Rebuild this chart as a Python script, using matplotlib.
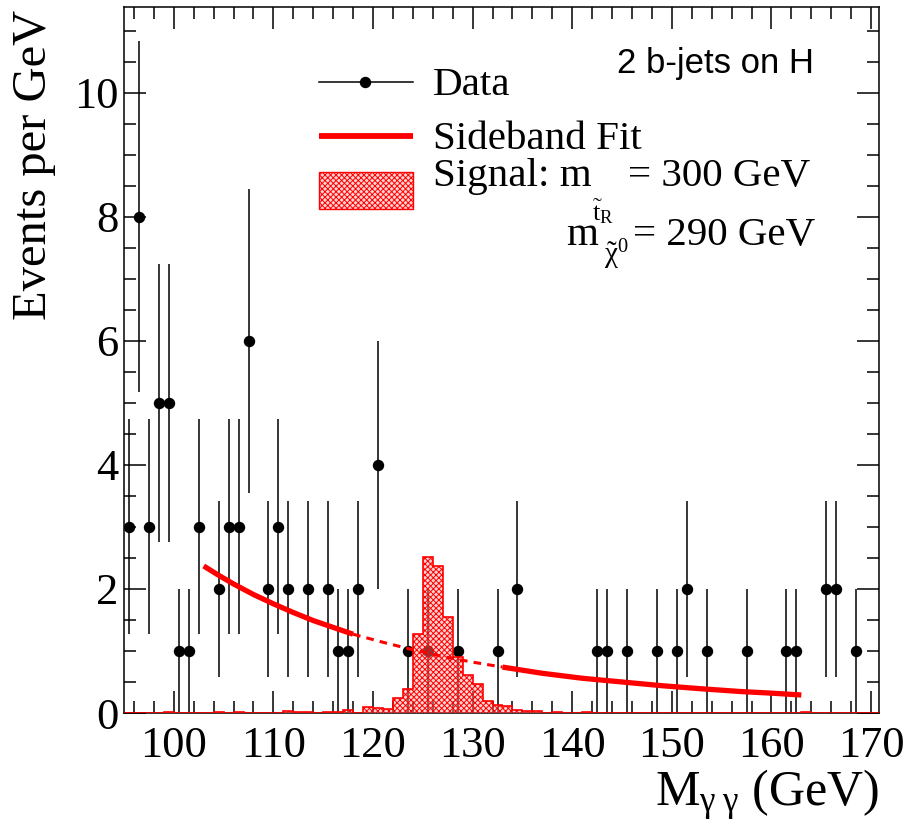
import numpy as np
import matplotlib.pyplot as plt
from matplotlib.lines import Line2D
from matplotlib.patches import Rectangle
from matplotlib.ticker import MultipleLocator

plt.rcParams['font.family'] = ['Liberation Serif', 'DejaVu Serif']
plt.rcParams['mathtext.fontset'] = 'custom'
plt.rcParams['mathtext.rm'] = 'Liberation Serif'
plt.rcParams['mathtext.it'] = 'Liberation Serif:italic'
plt.rcParams['hatch.linewidth'] = 0.7

W, H = 908, 822

# data points (1 GeV bins, bin centres)
mass = [95.5, 96.5, 97.5, 98.5, 99.5, 100.5, 101.5, 102.5, 104.5, 105.5,
        106.5, 107.5, 109.5, 110.5, 111.5, 113.5, 115.5, 116.5, 117.5, 118.5,
        120.5, 123.5, 125.5, 128.5, 132.5, 134.5, 142.5, 143.5, 145.5, 148.5,
        150.5, 151.5, 153.5, 157.5, 161.5, 162.5, 165.5, 166.5, 168.5]
events = [3, 8, 3, 5, 5, 1, 1, 3, 2, 3,
          3, 6, 2, 3, 2, 2, 2, 1, 1, 2,
          4, 1, 1, 1, 1, 2, 1, 1, 1, 1,
          1, 2, 1, 1, 1, 1, 2, 2, 1]

# sideband fit
fit_mass = [103, 104.5, 106, 108, 110, 112, 114, 116, 118, 121, 124, 127, 130,
            133, 137, 141, 145, 149, 153, 157, 160, 163]
fit_val = [2.37, 2.22, 2.08, 1.91, 1.76, 1.62, 1.49, 1.38, 1.27, 1.14, 1.02,
           0.91, 0.82, 0.74, 0.64, 0.56, 0.50, 0.44, 0.39, 0.345, 0.32, 0.29]

# signal histogram: lower bin edge and height of non-empty 1 GeV bins
sig_lo = [99, 104, 106, 111, 112, 113, 115, 116, 117, 119, 120, 121, 122, 123,
          124, 125, 126, 127, 128, 129, 130, 131, 132, 133, 134, 135, 136, 138,
          141, 163]
sig_h = [0.02, 0.02, 0.02, 0.04, 0.015, 0.015, 0.015, 0.015, 0.05, 0.10, 0.08,
         0.07, 0.24, 0.39, 1.27, 2.52, 2.37, 1.54, 0.91, 0.62, 0.46, 0.19, 0.13,
         0.11, 0.05, 0.03, 0.03, 0.02, 0.02, 0.02]

edges = np.arange(95, 172)
sig_vals = np.zeros(len(edges) - 1)
for lo, h in zip(sig_lo, sig_h):
    sig_vals[lo - 95] = h

sig_face = (1.0, 0.6, 0.6, 0.45)

fig = plt.figure(figsize=(W / 100, H / 100), dpi=100)
ax = fig.add_axes([124 / W, 1 - 713 / H, (879 - 124) / W, (713 - 7) / H])

ax.errorbar(mass, events, yerr=np.sqrt(events), fmt='o', color='black',
            ms=7.2, elinewidth=1.1, capsize=0, zorder=2)

ax.stairs(sig_vals, edges, fill=True, facecolor=sig_face, edgecolor='red',
          hatch='xxxxxx', lw=0, zorder=3)
ax.stairs(sig_vals, edges, color='red', lw=1.2, zorder=3)

fm = np.array(fit_mass)
fv = np.array(fit_val)
left = fm <= 118
mid = (fm >= 118) & (fm <= 133)
right = fm >= 133
ax.plot(fm[left], fv[left], color='red', lw=3.8, solid_capstyle='butt', zorder=4)
ax.plot(fm[mid], fv[mid], color='red', lw=2.2, ls=(0, (2.5, 2)), zorder=4)
ax.plot(fm[right], fv[right], color='red', lw=3.8, solid_capstyle='butt', zorder=4)

ax.set_xlim(95, 170.8)
ax.set_ylim(0, 11.38)
ax.xaxis.set_major_locator(MultipleLocator(10))
ax.xaxis.set_minor_locator(MultipleLocator(2))
ax.yaxis.set_major_locator(MultipleLocator(2))
ax.yaxis.set_minor_locator(MultipleLocator(0.5))
ax.tick_params(which='both', direction='in', top=True, right=True, width=1.1,
               labelsize=32)
ax.tick_params(which='major', length=16)
ax.tick_params(which='minor', length=8.6)
ax.tick_params(axis='x', pad=9)
ax.tick_params(axis='y', pad=4)
for s in ax.spines.values():
    s.set_linewidth(1.1)


def put(x, y, s, size, **kw):
    fig.text(x / W, 1 - y / H, s, fontsize=size, va='baseline', **kw)


# axis titles
fig.text(34 / W, 1 - 10 / H, 'Events per GeV', rotation=90, va='top',
         ha='center', fontsize=35)
put(879, 806, r'M$_{\mathrm{\gamma\;\gamma}}$ (GeV)', 36, ha='right')

# legend
fig.add_artist(Line2D([318.6 / W, 412.5 / W], [1 - 82 / H] * 2, color='black',
                      lw=1.1))
fig.add_artist(Line2D([365 / W], [1 - 82 / H], marker='o', ms=7.2, color='black'))
fig.add_artist(Line2D([318.6 / W, 412.5 / W], [1 - 136 / H] * 2, color='red',
                      lw=4.2, solid_capstyle='butt'))
fig.add_artist(Rectangle((318.6 / W, 1 - 209 / H), (412.5 - 318.6) / W,
                         (209 - 172) / H, transform=fig.transFigure,
                         facecolor=sig_face, edgecolor='red', hatch='xxxxxx',
                         lw=1.0))
put(433, 95, 'Data', 29.5)
put(433, 149, 'Sideband Fit', 29.5)
put(433, 186, 'Signal: m', 29.5)
put(592, 220, r'$\tilde{\mathrm{t}}_{\mathrm{R}}$', 19)
put(628, 186, '= 300 GeV', 29.5)
put(566, 245, 'm', 29.5)
put(604, 263, r'$\tilde{\mathrm{\chi}}^{\mathrm{0}}$', 21)
put(633, 245, '= 290 GeV', 29.5)

put(617, 73, '2 b-jets on H', 25, family='Liberation Sans')

fig.savefig('out.png', dpi=100)
